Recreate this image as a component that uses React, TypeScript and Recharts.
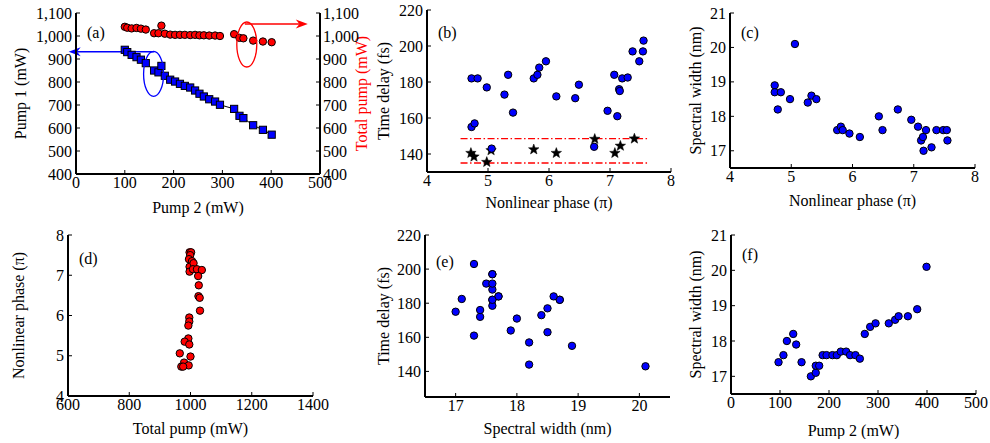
import React from "react";
import {ScatterChart, Scatter, XAxis, YAxis, ReferenceLine, ReferenceDot} from "recharts";

const FONT = "'Liberation Serif', 'Times New Roman', serif";
const BLUE = "#0000ff";
const RED = "#ff0000";

// (a) pump 1 and total pump against pump 2 (mW)
const pump2A = [100, 105, 114, 124, 133, 143, 160, 169, 175, 182, 193, 203, 213, 223, 234, 244, 253, 262, 273, 285, 295, 324, 335, 343, 363, 383, 401];
const pump1A = [940, 930, 918, 908, 897, 882, 850, 842, 870, 827, 810, 802, 792, 783, 776, 763, 749, 737, 725, 715, 701, 683, 653, 643, 612, 592, 571];
const totalA = [1040, 1036, 1033, 1035, 1032, 1028, 1012, 1012, 1045, 1010, 1006, 1005, 1005, 1005, 1004, 1005, 1003, 1003, 1002, 1002, 1000, 1008, 992, 990, 980, 976, 973];

// (b), (c), (e): one entry per measurement
const phase = [4.73, 4.73, 4.83, 4.78, 4.98, 5.06, 5.27, 5.33, 5.41, 5.75, 5.81, 5.84, 5.95, 6.12, 6.43, 6.49, 6.74, 6.96, 7.07, 7.12, 7.15, 7.16, 7.2, 7.29, 7.37, 7.48, 7.54, 7.55];
const specWidth = [18.9, 18.7, 18.7, 18.2, 18.5, 20.1, 18.4, 18.6, 18.5, 17.6, 17.7, 17.6, 17.5, 17.4, 18.0, 17.6, 18.2, 17.9, 17.7, 17.3, 17.4, 17.0, 17.6, 17.1, 17.6, 17.6, 17.6, 17.3];
const delay = [155, 182, 182, 157, 177, 143, 173, 184, 163, 182, 184, 188, 191.5, 172, 171, 178.5, 144, 164, 184, 161, 176, 175, 182, 182.5, 197, 191.5, 197, 203];

// (b) stars + the two limit lines
const starPhase = [4.72, 4.77, 4.98, 5.05, 5.75, 6.12, 6.75, 7.08, 7.17, 7.4];
const starDelay = [140.5, 138.5, 135.5, 142, 142.5, 140.5, 148.3, 140.5, 144.5, 148.5];
const limitY = [148.5, 135];
const limitX = [4.55, 7.63];

// (d) nonlinear phase against total pump
const totalD = [997, 1002, 999, 995, 1005, 997, 1010, 997, 1008, 1021, 1037, 1025, 1027, 1026, 1030, 1031, 996, 996, 993, 993, 981, 996, 965, 1000, 979, 994, 970, 976];
const phaseD = [7.57, 7.57, 7.5, 7.4, 7.35, 7.21, 7.3, 7.09, 7.15, 7.15, 7.13, 6.98, 6.75, 6.48, 6.44, 6.12, 5.95, 5.85, 5.75, 5.43, 5.35, 5.28, 5.06, 4.98, 4.83, 4.76, 4.73, 4.73];

// (f) spectral width against pump 2
const pump2F = [97, 107, 114, 127, 133, 144, 163, 173, 173, 180, 187, 195, 207, 216, 224, 235, 243, 254, 263, 273, 284, 295, 322, 335, 342, 361, 380, 399];
const widthF = [17.4, 17.6, 18.0, 18.2, 17.9, 17.4, 17.0, 17.1, 17.3, 17.3, 17.6, 17.6, 17.6, 17.6, 17.7, 17.7, 17.6, 17.6, 17.5, 18.2, 18.4, 18.5, 18.5, 18.6, 18.7, 18.7, 18.9, 20.1];

const pts = (xs: number[], ys: number[]) => xs.map((x, i) => ({x, y: ys[i]}));

const LW = 70; // left axis width
const XH = 45; // bottom axis height
const MT = 12;
const MR = 24;
const TICK = 4;
const AXIS = {stroke: "#000", strokeWidth: 2};
const tickStyle = {fontFamily: FONT, fontSize: 16};
const labelStyle = {fontFamily: FONT, fontSize: 16};

const comma = (v: number) => v.toLocaleString("en-US");

// matlab style: ticks point inside the box
function leftTick(m: number, fmt?: (v: number) => string) {
  return (props: any) => {
    const {x, y, payload} = props;
    return (
      <g>
        <line x1={x + m} x2={x + m + TICK} y1={y} y2={y} stroke="#000" />
        <text x={x} y={y} textAnchor="end" dominantBaseline="central" fill="#000" style={tickStyle}>
          {fmt ? fmt(payload.value) : payload.value}
        </text>
      </g>
    );
  };
}

function rightTick(m: number, show: boolean, fmt?: (v: number) => string) {
  return (props: any) => {
    const {x, y, payload} = props;
    return (
      <g>
        <line x1={x - m} x2={x - m - TICK} y1={y} y2={y} stroke="#000" />
        {show && (
          <text x={x} y={y} textAnchor="start" dominantBaseline="central" fill="#000" style={tickStyle}>
            {fmt ? fmt(payload.value) : payload.value}
          </text>
        )}
      </g>
    );
  };
}

function bottomTick(m: number) {
  return (props: any) => {
    const {x, y, payload} = props;
    return (
      <g>
        <line x1={x} x2={x} y1={y - m} y2={y - m - TICK} stroke="#000" />
        <text x={x} y={y} dy="0.71em" textAnchor="middle" fill="#000" style={tickStyle}>
          {payload.value}
        </text>
      </g>
    );
  };
}

const topTick = (props: any) => {
  const {x, y} = props;
  return <line x1={x} x2={x} y1={y} y2={y + TICK} stroke="#000" />;
};

const dot = (fill: string) => (p: any) => (
  <circle cx={p.cx} cy={p.cy} r={3.7} fill={fill} stroke="#000" strokeWidth={1} />
);

const square = (p: any) => (
  <rect x={p.cx - 3.6} y={p.cy - 3.6} width={7.2} height={7.2} fill={BLUE} stroke="#000" strokeWidth={1} />
);

const star = (p: any) => {
  const pp: string[] = [];
  for (let i = 0; i < 10; i++) {
    const r = i % 2 === 0 ? 5.5 : 2.3;
    const a = -Math.PI / 2 + (i * Math.PI) / 5;
    pp.push(`${p.cx + r * Math.cos(a)},${p.cy + r * Math.sin(a)}`);
  }
  return <polygon points={pp.join(" ")} fill="#000" stroke="#000" strokeWidth={0.5} />;
};

const ellipse = (color: string) => (p: any) => (
  <ellipse cx={p.cx} cy={p.cy} rx={10} ry={22.5} fill="none" stroke={color} strokeWidth={1.3} />
);

const arrow = (color: string) => (p: any) => {
  const {x1, y1, x2, y2} = p;
  const a = Math.atan2(y2 - y1, x2 - x1);
  const len = 12;
  const hw = 4.5;
  const bx = x2 - len * Math.cos(a);
  const by = y2 - len * Math.sin(a);
  const nx = -Math.sin(a);
  const ny = Math.cos(a);
  const notchX = x2 - len * 0.7 * Math.cos(a);
  const notchY = y2 - len * 0.7 * Math.sin(a);
  return (
    <g>
      <line x1={x1} y1={y1} x2={notchX} y2={notchY} stroke={color} strokeWidth={1.5} />
      <polygon
        points={`${x2},${y2} ${bx + nx * hw},${by + ny * hw} ${notchX},${notchY} ${bx - nx * hw},${by - ny * hw}`}
        fill={color}
      />
    </g>
  );
};

type PanelProps = {
  left: number;
  top: number;
  w: number;
  h: number;
  rightW?: number;
  xDomain: [number, number];
  xTicks: number[];
  yDomain: [number, number];
  yTicks: number[];
  xLabel: string;
  yLabel: string;
  yLabelDx: number;
  xLabelDy: number;
  tag: string;
  tagDy: number;
  yFmt?: (v: number) => string;
  rightLabel?: string;
  rightLabelDx?: number;
  children?: React.ReactNode;
};

function Panel(p: PanelProps) {
  const rw = p.rightW ?? 0;
  const yLab = (props: any) => {
    const vb = props.viewBox;
    const cx = vb.x + vb.width + p.yLabelDx;
    const cy = vb.y + vb.height / 2;
    return (
      <text x={cx} y={cy} transform={`rotate(-90 ${cx} ${cy})`} textAnchor="middle" dominantBaseline="central" fill="#000" style={labelStyle}>
        {p.yLabel}
      </text>
    );
  };
  const rLab = (props: any) => {
    const vb = props.viewBox;
    const cx = vb.x + (p.rightLabelDx ?? 0);
    const cy = vb.y + vb.height / 2;
    return (
      <text x={cx} y={cy} transform={`rotate(-90 ${cx} ${cy})`} textAnchor="middle" dominantBaseline="central" fill={RED} style={labelStyle}>
        {p.rightLabel}
      </text>
    );
  };
  const xLab = (props: any) => {
    const vb = props.viewBox;
    return (
      <text x={vb.x + vb.width / 2} y={vb.y + p.xLabelDy} textAnchor="middle" dominantBaseline="central" fill="#000" style={labelStyle}>
        {p.xLabel}
      </text>
    );
  };
  return (
    <div style={{position: "absolute", left: p.left - LW, top: p.top - MT}}>
      <ScatterChart
        width={LW + p.w + rw + MR}
        height={MT + p.h + XH}
        margin={{top: MT, right: MR, bottom: 0, left: 0}}
      >
        <XAxis
          type="number"
          dataKey="x"
          domain={p.xDomain}
          ticks={p.xTicks}
          interval={0}
          allowDataOverflow
          height={XH}
          tickSize={0}
          tickMargin={3}
          tickLine={false}
          axisLine={AXIS}
          tick={bottomTick(3)}
          label={xLab}
        />
        <XAxis
          xAxisId="top"
          orientation="top"
          type="number"
          domain={p.xDomain}
          ticks={p.xTicks}
          interval={0}
          allowDataOverflow
          height={0}
          tickSize={0}
          tickMargin={0}
          tickLine={false}
          axisLine={AXIS}
          tick={topTick}
        />
        <YAxis
          type="number"
          dataKey="y"
          domain={p.yDomain}
          ticks={p.yTicks}
          interval={0}
          allowDataOverflow
          width={LW}
          tickSize={0}
          tickMargin={4}
          tickLine={false}
          axisLine={AXIS}
          tick={leftTick(4, p.yFmt)}
          label={yLab}
        />
        <YAxis
          yAxisId="right"
          orientation="right"
          type="number"
          domain={p.yDomain}
          ticks={p.yTicks}
          interval={0}
          allowDataOverflow
          width={rw}
          tickSize={0}
          tickMargin={p.rightLabel ? 3 : 0}
          tickLine={false}
          axisLine={AXIS}
          tick={rightTick(p.rightLabel ? 3 : 0, !!p.rightLabel, p.yFmt)}
          label={p.rightLabel ? rLab : undefined}
        />
        {p.children}
      </ScatterChart>
      <div
        style={{
          position: "absolute",
          left: LW + 11,
          top: MT + p.tagDy - 10,
          fontFamily: FONT,
          fontSize: 16,
          lineHeight: "20px",
          pointerEvents: "none",
        }}
      >
        {p.tag}
      </div>
    </div>
  );
}

export default function App() {
  return (
    <div
      style={{
        position: "absolute",
        left: 0,
        top: 0,
        width: 990,
        height: 443,
        background: "#fff",
        overflow: "hidden",
      }}
    >
      {/* (a) */}
      <Panel
        left={76}
        top={13}
        w={244}
        h={161}
        rightW={50}
        xDomain={[0, 500]}
        xTicks={[0, 100, 200, 300, 400, 500]}
        yDomain={[400, 1100]}
        yTicks={[400, 500, 600, 700, 800, 900, 1000, 1100]}
        yFmt={comma}
        xLabel="Pump 2 (mW)"
        yLabel="Pump 1 (mW)"
        yLabelDx={-56}
        xLabelDy={33}
        rightLabel="Total pump (mW)"
        rightLabelDx={41}
        tag="(a)"
        tagDy={20}
      >
        <Scatter
          data={pts(pump2A, pump1A)}
          line={{stroke: "#000", strokeWidth: 1}}
          shape={square}
          isAnimationActive={false}
        />
        <Scatter data={pts(pump2A, totalA)} shape={dot(RED)} isAnimationActive={false} />
        <ReferenceDot x={159} y={835} r={0} ifOverflow="visible" shape={ellipse(BLUE)} />
        <ReferenceDot x={350} y={963} r={0} ifOverflow="visible" shape={ellipse(RED)} />
        <ReferenceLine
          segment={[{x: 160, y: 932}, {x: -15, y: 932}]}
          ifOverflow="visible"
          shape={arrow(BLUE)}
        />
        <ReferenceLine
          segment={[{x: 346, y: 1052}, {x: 475, y: 1052}]}
          ifOverflow="visible"
          shape={arrow(RED)}
        />
      </Panel>

      {/* (b) */}
      <Panel
        left={427}
        top={10}
        w={244}
        h={162}
        xDomain={[4, 8]}
        xTicks={[4, 5, 6, 7, 8]}
        yDomain={[130, 220]}
        yTicks={[140, 160, 180, 200, 220]}
        xLabel="Nonlinear phase (π)"
        yLabel="Time delay (fs)"
        yLabelDx={-44}
        xLabelDy={30}
        tag="(b)"
        tagDy={23}
      >
        <Scatter data={pts(starPhase, starDelay)} shape={star} isAnimationActive={false} />
        <Scatter data={pts(phase, delay)} shape={dot(BLUE)} isAnimationActive={false} />
        {limitY.map((y) => (
          <ReferenceLine
            key={y}
            segment={[{x: limitX[0], y}, {x: limitX[1], y}]}
            stroke={RED}
            strokeWidth={1.3}
            strokeDasharray="7 2.5 1.5 2.5"
          />
        ))}
      </Panel>

      {/* (c) */}
      <Panel
        left={730}
        top={13}
        w={245}
        h={155}
        xDomain={[4, 8]}
        xTicks={[4, 5, 6, 7, 8]}
        yDomain={[16.5, 21]}
        yTicks={[17, 18, 19, 20, 21]}
        xLabel="Nonlinear phase (π)"
        yLabel="Spectral width (nm)"
        yLabelDx={-35}
        xLabelDy={32}
        tag="(c)"
        tagDy={20}
      >
        <Scatter data={pts(phase, specWidth)} shape={dot(BLUE)} isAnimationActive={false} />
      </Panel>

      {/* (d) */}
      <Panel
        left={68}
        top={235}
        w={245}
        h={161}
        xDomain={[600, 1400]}
        xTicks={[600, 800, 1000, 1200, 1400]}
        yDomain={[4, 8]}
        yTicks={[4, 5, 6, 7, 8]}
        xLabel="Total pump (mW)"
        yLabel="Nonlinear phase (π)"
        yLabelDx={-50}
        xLabelDy={32}
        tag="(d)"
        tagDy={24}
      >
        <Scatter data={pts(totalD, phaseD)} shape={dot(RED)} isAnimationActive={false} />
      </Panel>

      {/* (e) */}
      <Panel
        left={425}
        top={235}
        w={245}
        h={162}
        xDomain={[16.5, 20.5]}
        xTicks={[17, 18, 19, 20]}
        yDomain={[125, 220]}
        yTicks={[140, 160, 180, 200, 220]}
        xLabel="Spectral width (nm)"
        yLabel="Time delay (fs)"
        yLabelDx={-42}
        xLabelDy={31}
        tag="(e)"
        tagDy={27}
      >
        <Scatter data={pts(specWidth, delay)} shape={dot(BLUE)} isAnimationActive={false} />
      </Panel>

      {/* (f) */}
      <Panel
        left={731}
        top={235}
        w={245}
        h={159}
        xDomain={[0, 500]}
        xTicks={[0, 100, 200, 300, 400, 500]}
        yDomain={[16.5, 21]}
        yTicks={[17, 18, 19, 20, 21]}
        xLabel="Pump 2 (mW)"
        yLabel="Spectral width (nm)"
        yLabelDx={-36}
        xLabelDy={36}
        tag="(f)"
        tagDy={20}
      >
        <Scatter data={pts(pump2F, widthF)} shape={dot(BLUE)} isAnimationActive={false} />
      </Panel>
    </div>
  );
}
